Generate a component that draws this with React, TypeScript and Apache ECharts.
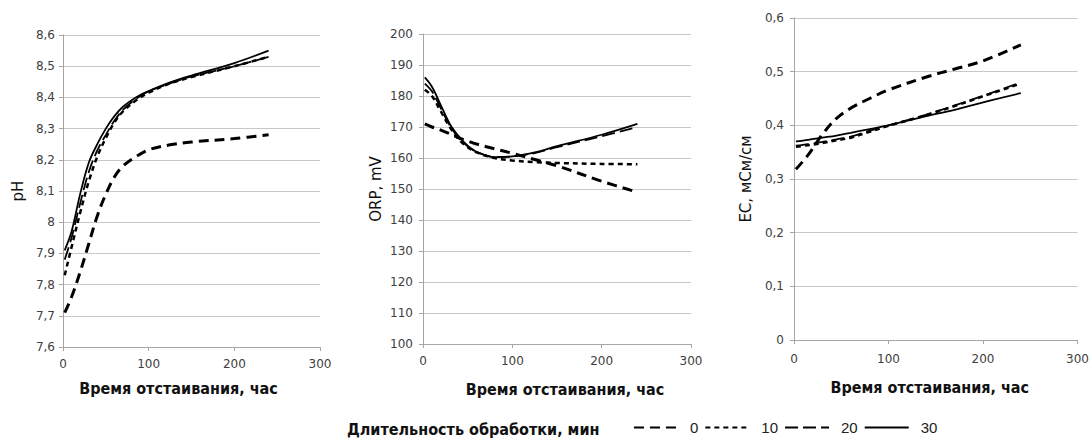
import React, { useEffect, useRef } from "react";
import * as echarts from "echarts";

// ---- data ----
const seriesNames = ["0", "10", "20", "30"];
const xTicks = [0, 100, 200, 300];

const phTime = [2, 10, 20, 30, 40, 50, 60, 70, 85, 100, 125, 150, 200, 240];
const ph0 = [7.71, 7.76, 7.84, 7.93, 8.02, 8.09, 8.145, 8.18, 8.21, 8.232, 8.248, 8.257, 8.268, 8.28];
const ph10 = [7.83, 7.92, 8.03, 8.13, 8.21, 8.27, 8.32, 8.355, 8.39, 8.415, 8.445, 8.465, 8.5, 8.53];
const ph20 = [7.88, 7.95, 8.06, 8.16, 8.23, 8.28, 8.325, 8.36, 8.395, 8.42, 8.445, 8.467, 8.5, 8.53];
const ph30 = [7.91, 7.97, 8.09, 8.19, 8.25, 8.3, 8.34, 8.37, 8.4, 8.42, 8.448, 8.47, 8.51, 8.55];

const orpTime = [2, 10, 20, 30, 40, 50, 60, 80, 100, 125, 150, 200, 240];
const orp0 = [171, 170, 169, 167.8, 166.5, 165.5, 164.5, 163, 161.5, 159.5, 157.5, 152.5, 149];
const orp10 = [182, 180, 175, 170, 166, 163.5, 161.8, 160, 159.2, 158.7, 158.4, 158.1, 158];
const orp20 = [184, 181.5, 176, 170.5, 166.5, 163.8, 162, 160.3, 160.5, 161.6, 163.5, 167, 170];
const orp30 = [186, 183, 177, 171, 167, 164, 162, 160.3, 160.5, 161.8, 163.8, 167.5, 171];

const ecTime = [2, 15, 30, 45, 60, 80, 100, 140, 170, 200, 240];
const ec0 = [0.318, 0.345, 0.383, 0.413, 0.432, 0.45, 0.466, 0.49, 0.505, 0.52, 0.55];
const ec10 = [0.36, 0.363, 0.367, 0.372, 0.377, 0.388, 0.399, 0.419, 0.436, 0.454, 0.478];
const ec20 = [0.362, 0.365, 0.369, 0.374, 0.379, 0.39, 0.4, 0.42, 0.437, 0.455, 0.48];
const ec30 = [0.37, 0.373, 0.377, 0.381, 0.386, 0.393, 0.4, 0.417, 0.429, 0.443, 0.46];

const TICK_FONT = "DejaVu Sans";
const TITLE_FONT = "DejaVu Sans Condensed";

const lineStyles: Record<string, any> = {
  "0": { width: 3, type: [10, 6] },
  "10": { width: 2.5, type: [5, 4] },
  "20": { width: 1.8, type: [13, 5] },
  "30": { width: 1.8, type: "solid" },
};

const fmt = (v: number) => String(Math.round(v * 10) / 10).replace(".", ",");

function mkSeries(idx: number, time: number[], vals: number[][]) {
  return vals.map((v, i) => ({
    name: seriesNames[i],
    type: "line",
    xAxisIndex: idx,
    yAxisIndex: idx,
    smooth: 0.35,
    symbol: "none",
    showSymbol: false,
    data: time.map((t, k) => [t, v[k]]),
    lineStyle: { color: "#000", ...lineStyles[seriesNames[i]], cap: "butt" },
    itemStyle: { color: "#000" },
    z: 10 - i,
  }));
}

function xAxis(idx: number, gap: number, margin: number, pad: number[]) {
  return {
    type: "value",
    gridIndex: idx,
    min: xTicks[0],
    max: xTicks[xTicks.length - 1],
    interval: 100,
    axisLine: { lineStyle: { color: "#a6a6a6" } },
    axisTick: { show: true, length: 4, lineStyle: { color: "#a6a6a6" } },
    axisLabel: { fontFamily: TICK_FONT, fontSize: 12, color: "#404040", margin },
    splitLine: { show: false },
    name: "Время отстаивания, час",
    nameLocation: "middle",
    nameGap: gap,
    nameTextStyle: {
      fontFamily: TITLE_FONT,
      fontWeight: "bold",
      fontSize: 16,
      color: "#111",
      padding: pad,
    },
  };
}

function yAxis(idx: number, min: number, max: number, interval: number, name: string, gap: number, margin: number) {
  return {
    type: "value",
    gridIndex: idx,
    min,
    max,
    interval,
    axisLine: { show: true, lineStyle: { color: "#a6a6a6" } },
    axisTick: { show: true, length: 4, lineStyle: { color: "#a6a6a6" } },
    axisLabel: { fontFamily: TICK_FONT, fontSize: 12, color: "#404040", margin, formatter: fmt },
    splitLine: { show: true, lineStyle: { color: "#c8c8c8", width: 1 } },
    name,
    nameLocation: "middle",
    nameGap: gap,
    nameTextStyle: { fontFamily: TICK_FONT, fontSize: 15, color: "#111" },
  };
}

export default function App() {
  const ref = useRef<HTMLDivElement>(null);
  useEffect(() => {
    if (!ref.current) return;
    const chart = echarts.init(ref.current, null, { renderer: "svg" });
    chart.setOption({
      animation: false,
      backgroundColor: "#fff",
      grid: [
        { left: 63, top: 35, width: 257, height: 312 },
        { left: 423, top: 34, width: 268, height: 310 },
        { left: 794, top: 18, width: 284, height: 322 },
      ],
      xAxis: [
        xAxis(0, 33, 11, [0, 26, 0, 0]),
        xAxis(1, 37, 11, [0, 0, 0, 16]),
        xAxis(2, 39, 13, [0, 12, 0, 0]),
      ],
      yAxis: [
        yAxis(0, 7.6, 8.6, 0.1, "pH", 38, 8),
        yAxis(1, 100, 200, 10, "ORP, mV", 40, 10),
        yAxis(2, 0, 0.6, 0.1, "EC, мСм/см", 41, 10),
      ],
      legend: {
        data: seriesNames,
        left: 633,
        top: 420,
        padding: 0,
        itemWidth: 44,
        itemHeight: 16,
        itemGap: 6,
        itemStyle: { color: "transparent", borderWidth: 0, opacity: 0 },
        textStyle: { fontFamily: "Liberation Sans", fontSize: 15, color: "#222", padding: [0, 0, 0, 7] },
      },
      graphic: [
        {
          type: "text",
          left: 347,
          top: 421,
          style: {
            text: "Длительность обработки, мин",
            font: `bold 16px "${TITLE_FONT}"`,
            fill: "#111",
          },
        },
      ],
      series: [
        ...mkSeries(0, phTime, [ph0, ph10, ph20, ph30]),
        ...mkSeries(1, orpTime, [orp0, orp10, orp20, orp30]),
        ...mkSeries(2, ecTime, [ec0, ec10, ec20, ec30]),
      ],
    });
    return () => chart.dispose();
  }, []);
  return (
    <div
      ref={ref}
      style={{ position: "fixed", left: 0, top: 0, width: 1092, height: 441, background: "#fff" }}
    />
  );
}
